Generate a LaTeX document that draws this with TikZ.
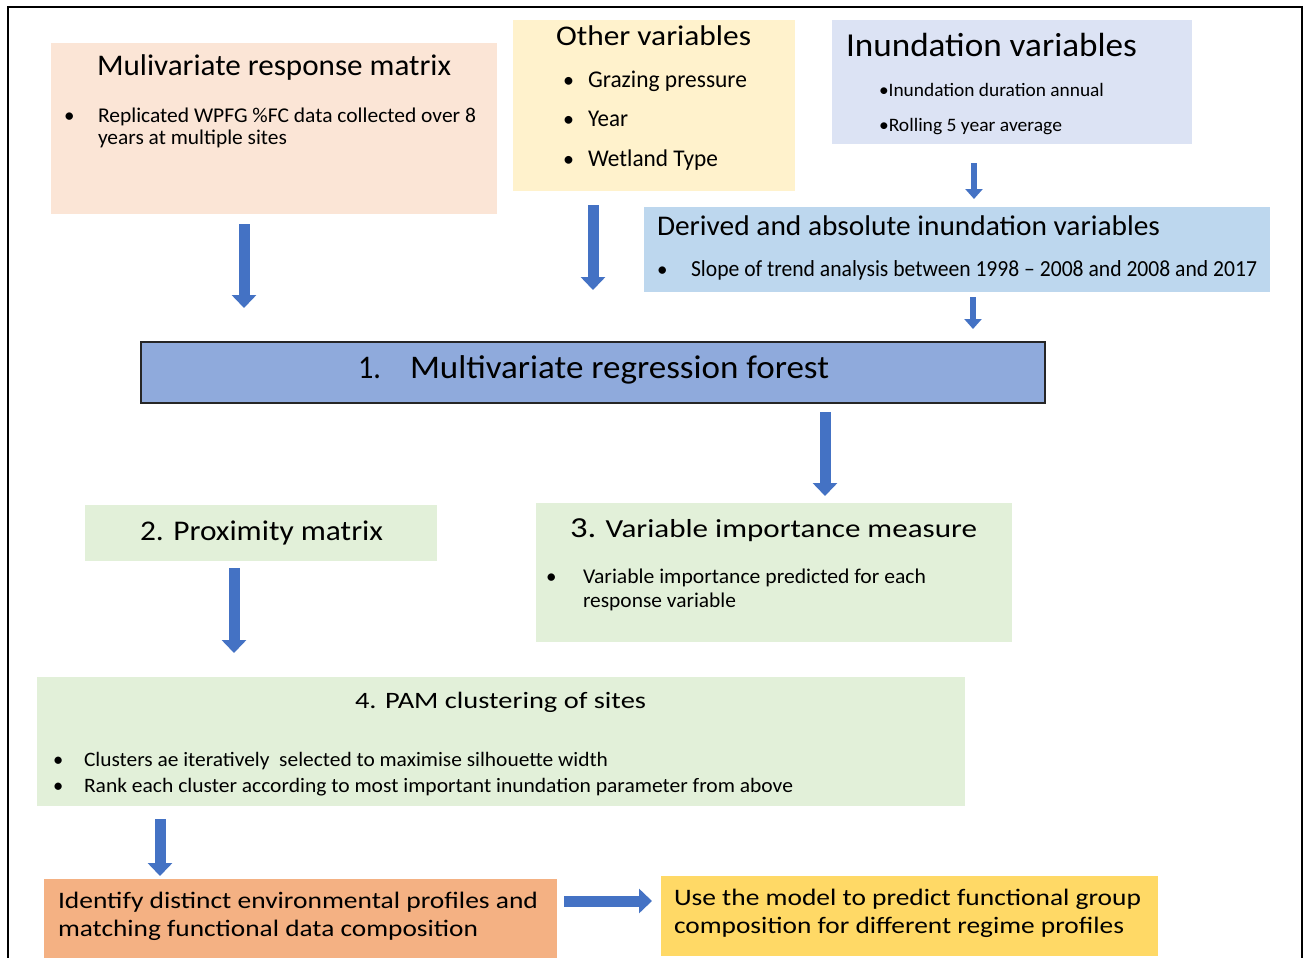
\documentclass[tikz,border=0pt]{standalone}
\usepackage{fontspec}
\setmainfont{Carlito}
\usepackage{graphicx}
\usetikzlibrary{arrows.meta}
\definecolor{peach}{HTML}{FBE5D6}
\definecolor{paleyellow}{HTML}{FFF2CC}
\definecolor{lavender}{HTML}{DCE3F4}
\definecolor{lightblue}{HTML}{BDD7EE}
\definecolor{mrfblue}{HTML}{8FAADC}
\definecolor{palegreen}{HTML}{E2F0D9}
\definecolor{orangebox}{HTML}{F4B183}
\definecolor{goldbox}{HTML}{FFD966}
\definecolor{arrowblue}{HTML}{4472C4}
\newcommand{\fw}[3]{\resizebox{#1pt}{\height}{\fontsize{#2}{#2}\selectfont #3}}
\newcommand{\bul}[1]{{\fontsize{#1}{#1}\selectfont\textbullet}}
\tikzset{
  box/.style={anchor=north west, inner sep=0pt, outer sep=0pt, draw=white, line width=1pt},
  txt/.style={anchor=base west, inner sep=0pt, outer sep=0pt, text=black},
  bigarrow/.style={draw=arrowblue, line width=11pt, -{Triangle[width=24pt,length=13pt]}},
  smallarrow/.style={draw=arrowblue, line width=6pt, -{Triangle[width=17pt,length=10pt]}}
}
\begin{document}
\begin{tikzpicture}[x=1pt,y=-1pt]
\useasboundingbox (0,0) rectangle (1309,958);
\fill[white] (0,0) rectangle (1309,958);
% boxes
\node[box, fill=peach, minimum width=447pt, minimum height=171pt] (resp) at (50,43) {};
\node[box, fill=paleyellow, minimum width=283pt, minimum height=171pt] (other) at (512,20) {};
\node[box, fill=lavender, minimum width=361pt, minimum height=124pt] (inund) at (831,20) {};
\node[box, fill=lightblue, minimum width=627pt, minimum height=86pt] (derived) at (643,206) {};
\node[box, fill=mrfblue, draw=black!85, line width=1.8pt, minimum width=904pt, minimum height=61pt] (mrf) at (141,342) {};
\node[box, fill=palegreen, minimum width=353pt, minimum height=57pt] (prox) at (84,504) {};
\node[box, fill=palegreen, minimum width=477pt, minimum height=140pt] (varimp) at (535,502) {};
\node[box, fill=palegreen, minimum width=929pt, minimum height=130pt] (pam) at (36,676) {};
\node[box, fill=orangebox, minimum width=514pt, minimum height=82pt] (ident) at (43,878) {};
\node[box, fill=goldbox, minimum width=498pt, minimum height=81pt] (use) at (660,875) {};
% texts: response matrix
\node[txt] (t1) at (97,76) {\fw{354}{30}{Mulivariate response matrix}};
\node[txt] (b1) at (64,122) {\bul{21}};
\node[txt] (t2) at (98,122) {\fw{378}{21}{Replicated WPFG \%FC data collected over 8}};
\node[txt] (t3) at (98,144) {\fw{189}{21}{years at multiple sites}};
% other variables
\node[txt] (t4) at (556,46) {\fw{195}{28.5}{Other variables}};
\node[txt] (b2) at (563,87) {\bul{22}};
\node[txt] (b3) at (563,126) {\bul{22}};
\node[txt] (b4) at (563,166) {\bul{22}};
\node[txt] (t5) at (588,87) {\fw{159}{24}{Grazing pressure}};
\node[txt] (t6) at (588,126) {\fw{40}{24}{Year}};
\node[txt] (t7) at (588,166) {\fw{130}{24}{Wetland Type}};
% inundation
\node[txt] (t8) at (846,57) {\fw{291}{33.5}{Inundation variables}};
\node[txt] (t9) at (879,96) {\fw{225}{19}{\textbullet Inundation duration annual}};
\node[txt] (t10) at (879,131) {\fw{183}{19}{\textbullet Rolling 5 year average}};
% derived
\node[txt] (t11) at (657,235) {\fw{503}{28.5}{Derived and absolute inundation variables}};
\node[txt] (b5) at (657,276) {\bul{21}};
\node[txt] (t12) at (691,276) {\fw{566}{23}{Slope of trend analysis between 1998 – 2008 and 2008 and 2017}};
% mrf
\node[txt] (t13) at (358,378) {\fw{23}{33}{1.}};
\node[txt] (t14) at (410,378) {\fw{419}{33}{Multivariate regression forest}};
% proximity
\node[txt] (t15) at (140,540) {\fw{243}{28.5}{2. Proximity matrix}};
% var imp
\node[txt] (t16) at (570,537) {\fw{407}{26}{{\fontsize{29}{29}\selectfont 3.} Variable importance measure}};
\node[txt] (b6) at (546,583) {\bul{21}};
\node[txt] (t17) at (583,583) {\fw{343}{21}{Variable importance predicted for each}};
\node[txt] (t18) at (583,607) {\fw{153}{21}{response variable}};
% pam
\node[txt] (t19) at (355,708) {\fw{291}{23.5}{4. PAM clustering of sites}};
\node[txt] (b7) at (53,766) {\bul{20.5}};
\node[txt] (b8) at (53,792) {\bul{20.5}};
\node[txt] (t20) at (84,766) {\fw{524}{20.5}{Clusters ae iteratively\ \ selected to maximise silhouette width}};
\node[txt] (t21) at (84,792) {\fw{709}{20.5}{Rank each cluster according to most important inundation parameter from above}};
% bottom
\node[txt] (t22) at (58,908) {\fw{480}{23.6}{Identify distinct environmental profiles and}};
\node[txt] (t23) at (58,936) {\fw{420}{23.6}{matching functional data composition}};
\node[txt] (t24) at (674,905) {\fw{467}{23.6}{Use the model to predict functional group}};
\node[txt] (t25) at (674,933) {\fw{450}{23.6}{composition for different regime profiles}};
% arrow coordinates
\coordinate (a1s) at (244,224); \coordinate (a1e) at (244,308);
\coordinate (a2s) at (593,205); \coordinate (a2e) at (593,290);
\coordinate (a3s) at (974,163); \coordinate (a3e) at (974,199);
\coordinate (a4s) at (973,297); \coordinate (a4e) at (973,329);
\coordinate (a5s) at (825,412); \coordinate (a5e) at (825,496);
\coordinate (a6s) at (234,568); \coordinate (a6e) at (234,653);
\coordinate (a7s) at (160,819); \coordinate (a7e) at (160,876);
\coordinate (a8s) at (564,901); \coordinate (a8e) at (652,901);
\draw[bigarrow] (a1s) -- (a1e);
\draw[bigarrow] (a2s) -- (a2e);
\draw[smallarrow] (a3s) -- (a3e);
\draw[smallarrow] (a4s) -- (a4e);
\draw[bigarrow] (a5s) -- (a5e);
\draw[bigarrow] (a6s) -- (a6e);
\draw[bigarrow] (a7s) -- (a7e);
\draw[bigarrow] (a8s) -- (a8e);
% outer frame
\draw[line width=2pt, black] (8,965) -- (8,7) -- (1302,7) -- (1302,965);
\end{tikzpicture}
\end{document}
